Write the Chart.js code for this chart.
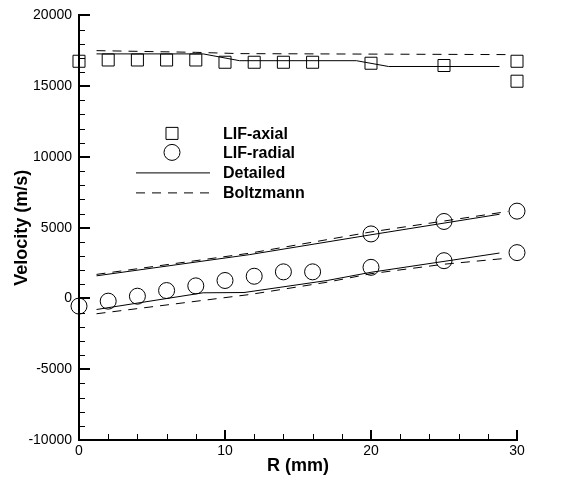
<!DOCTYPE html>
<html lang="en">
<head>
  <meta charset="UTF-8">
  <title>Velocity vs R</title>
  <style>
    html, body { margin: 0; padding: 0; background: #fff; }
    #wrap { width: 562px; height: 485px; }
  </style>
  <script src="https://cdn.jsdelivr.net/npm/chart.js"></script>
</head>
<body>
<div id="wrap"><canvas id="velChart"></canvas></div>
<script>
  // LIF measurements (R in mm, velocity in m/s)
  const axialR = [0, 2, 4, 6, 8, 10, 12, 14, 16, 20, 25, 30, 30];
  const axialV = [16760, 16850, 16850, 16850, 16850, 16690, 16690, 16690, 16690, 16620, 16460, 16760, 15350];
  const radialR = [0, 2, 4, 6, 8, 10, 12, 14, 16, 20, 25, 30, 20, 25, 30];
  const radialV = [-540, -190, 160, 560, 890, 1270, 1570, 1880, 1880, 2200, 2670, 3240, 4560, 5440, 6170];

  // Detailed model curves
  const detAxialR = [1.2, 8.5, 11, 19, 21.2, 28.8];
  const detAxialV = [17280, 17280, 16800, 16800, 16390, 16390];
  const detUpperR = [1.2, 11.7, 20, 28.8];
  const detUpperV = [1600, 3100, 4500, 5950];
  const detLowerR = [1.2, 8.5, 11.3, 17, 20, 25, 28.8];
  const detLowerV = [-780, 400, 420, 1270, 1850, 2620, 3210];

  // Boltzmann model curves
  const boltzAxialR = [1.2, 8, 11, 29.4];
  const boltzAxialV = [17510, 17390, 17300, 17230];
  const boltzUpperR = [1.2, 11.7, 20, 29.4];
  const boltzUpperV = [1700, 3200, 4700, 6150];
  const boltzLowerR = [1.2, 11.7, 17, 20, 25, 29.4];
  const boltzLowerV = [-1080, 280, 1150, 1750, 2420, 2850];

  const DASH = [9, 7];
  const FONT = 'Arial, "Liberation Sans", sans-serif';

  function pts(r, v) {
    return r.map((x, i) => ({ x: x, y: v[i] }));
  }

  function curve(r, v, dashed) {
    return {
      data: pts(r, v),
      showLine: true,
      borderColor: '#000',
      borderWidth: 1,
      borderDash: dashed ? DASH : [],
      pointRadius: 0,
      fill: false,
      tension: 0
    };
  }

  function markers(r, v, style, radius) {
    return {
      data: pts(r, v),
      showLine: false,
      pointStyle: style,
      pointRadius: radius,
      pointHoverRadius: radius,
      pointBorderColor: '#000',
      pointBackgroundColor: 'rgba(0,0,0,0)',
      pointBorderWidth: 1,
      clip: false
    };
  }

  // tecplot style inward ticks
  const innerTicks = {
    id: 'innerTicks',
    afterDraw(chart) {
      const { ctx, chartArea: a, scales: { x, y } } = chart;
      ctx.save();
      ctx.strokeStyle = '#000';
      for (let v = x.min; v <= x.max; v += 2) {
        const major = v % 10 === 0;
        const px = Math.round(x.getPixelForValue(v)) + (major ? 0 : 0.5);
        ctx.lineWidth = major ? 2 : 1;
        ctx.beginPath();
        ctx.moveTo(px, a.bottom);
        ctx.lineTo(px, a.bottom - (major ? 10 : 6));
        ctx.stroke();
      }
      for (let v = y.min; v <= y.max; v += 1000) {
        const major = v % 5000 === 0;
        const py = Math.round(y.getPixelForValue(v)) + (major ? 0 : 0.5);
        ctx.lineWidth = major ? 2 : 1;
        ctx.beginPath();
        ctx.moveTo(a.left, py);
        ctx.lineTo(a.left + (major ? 11 : 6), py);
        ctx.stroke();
      }
      ctx.restore();
    }
  };

  // legend box inside the plot
  const legendBox = {
    id: 'legendBox',
    afterDraw(chart) {
      const { ctx, chartArea: a } = chart;
      const lx0 = a.left + 57, lx1 = a.left + 131, mx = a.left + 93, tx = a.left + 144;
      const rows = [a.top + 118, a.top + 137, a.top + 157, a.top + 177];
      const labels = ['LIF-axial', 'LIF-radial', 'Detailed', 'Boltzmann'];
      ctx.save();
      ctx.strokeStyle = '#000';
      ctx.fillStyle = 'rgba(0,0,0,0)';
      Chart.helpers.drawPoint(ctx, { pointStyle: 'rect', radius: 8.5, borderWidth: 1 }, mx, rows[0]);
      Chart.helpers.drawPoint(ctx, { pointStyle: 'circle', radius: 8, borderWidth: 1 }, mx, rows[1]);
      ctx.lineWidth = 1;
      ctx.beginPath();
      ctx.moveTo(lx0, rows[2] + 0.5);
      ctx.lineTo(lx1, rows[2] + 0.5);
      ctx.stroke();
      ctx.setLineDash(DASH);
      ctx.beginPath();
      ctx.moveTo(lx0, rows[3] + 0.5);
      ctx.lineTo(lx1, rows[3] + 0.5);
      ctx.stroke();
      ctx.setLineDash([]);
      ctx.fillStyle = '#000';
      ctx.font = 'bold 16px ' + FONT;
      ctx.textAlign = 'left';
      ctx.textBaseline = 'middle';
      labels.forEach((t, i) => ctx.fillText(t, tx, rows[i] + 1));
      ctx.restore();
    }
  };

  new Chart(document.getElementById('velChart').getContext('2d'), {
    type: 'scatter',
    data: {
      datasets: [
        curve(detAxialR, detAxialV, false),
        curve(detUpperR, detUpperV, false),
        curve(detLowerR, detLowerV, false),
        curve(boltzAxialR, boltzAxialV, true),
        curve(boltzUpperR, boltzUpperV, true),
        curve(boltzLowerR, boltzLowerV, true),
        markers(axialR, axialV, 'rect', 8.5),
        markers(radialR, radialV, 'circle', 8)
      ]
    },
    options: {
      responsive: true,
      maintainAspectRatio: false,
      animation: false,
      events: [],
      layout: { padding: { top: 14, right: 45, left: 0, bottom: 0 } },
      plugins: {
        legend: { display: false },
        tooltip: { enabled: false }
      },
      scales: {
        x: {
          type: 'linear',
          min: 0,
          max: 30,
          afterFit: (s) => { s.height = 45; },
          grid: { display: false, drawTicks: false },
          border: { display: true, color: '#000', width: 2 },
          ticks: {
            stepSize: 10,
            padding: 3,
            color: '#000',
            font: { family: FONT, size: 14 },
            callback: (v) => String(v)
          },
          title: {
            display: true,
            text: 'R (mm)',
            color: '#000',
            font: { family: FONT, size: 18, weight: 'bold' },
            padding: { top: 0, bottom: 8 }
          }
        },
        y: {
          type: 'linear',
          min: -10000,
          max: 20000,
          afterFit: (s) => { s.width = 79; },
          grid: { display: false, drawTicks: false },
          border: { display: true, color: '#000', width: 2 },
          ticks: {
            stepSize: 5000,
            padding: 7,
            color: '#000',
            font: { family: FONT, size: 14 },
            callback: (v) => String(v)
          },
          title: {
            display: true,
            text: 'Velocity (m/s)',
            color: '#000',
            font: { family: FONT, size: 18, weight: 'bold' },
            padding: { top: 11, bottom: 0 }
          }
        }
      }
    },
    plugins: [innerTicks, legendBox]
  });
</script>
</body>
</html>
